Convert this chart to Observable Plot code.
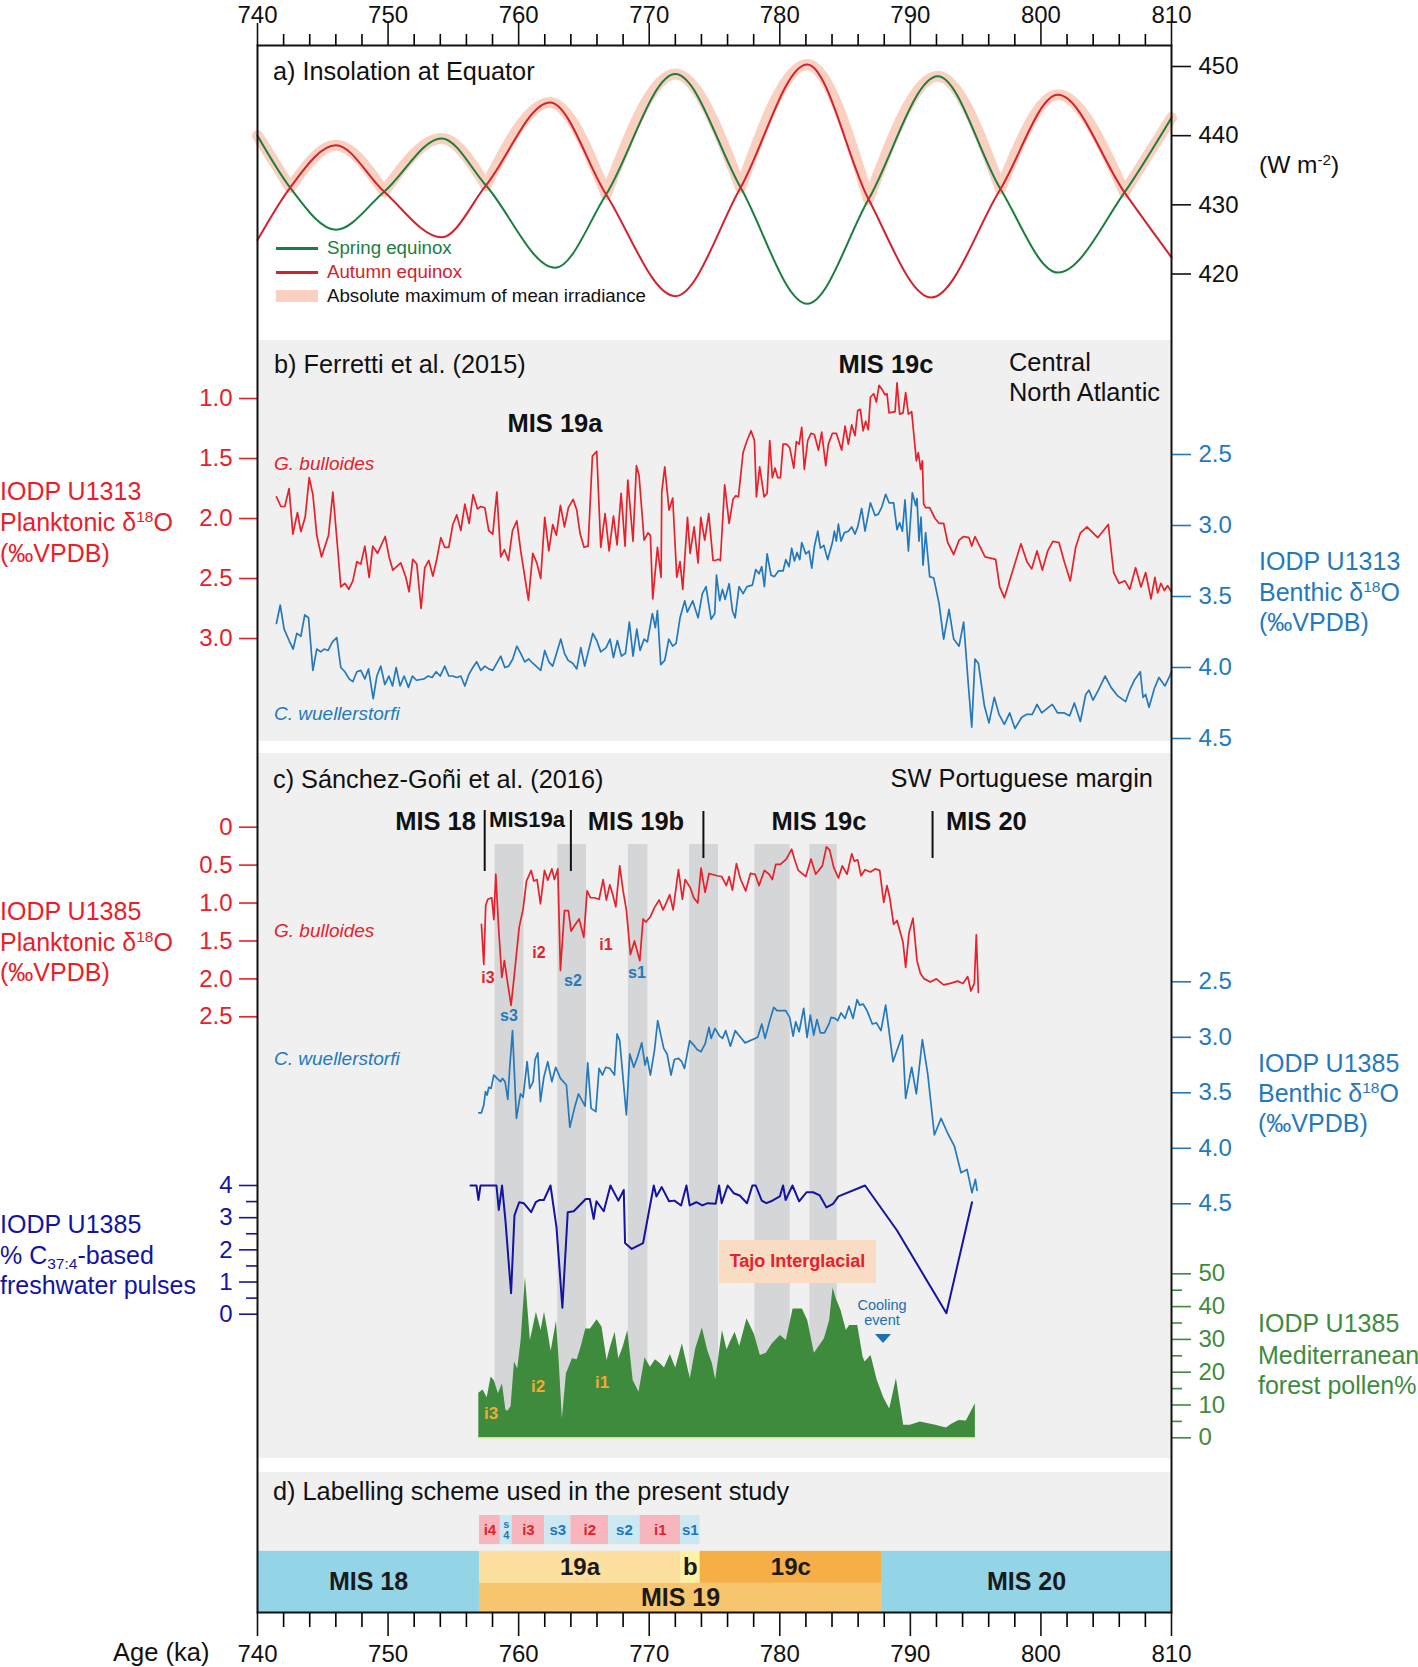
<!DOCTYPE html>
<html><head><meta charset="utf-8">
<script src="https://cdn.jsdelivr.net/npm/d3@7"></script>
<script src="https://cdn.jsdelivr.net/npm/@observablehq/plot@0.6"></script>
<style>
body{margin:0;background:#fff;}
#chart{position:relative;width:1418px;height:1667px;font-family:"Liberation Sans",Arial,Helvetica,sans-serif;overflow:hidden;background:#fff;}
#chart svg{position:absolute;left:0;top:0;}
.t{position:absolute;white-space:nowrap;line-height:1;}
.bg{position:absolute;background:#f0f0f0;}
.sup{font-size:62%;position:relative;top:-0.55em;}
.sub{font-size:62%;position:relative;top:0.3em;}
</style></head>
<body><div id="chart"></div>
<script>
// ---------------- DATA ----------------
const majorAges = [740, 750, 760, 770, 780, 790, 800, 810];
const minorAges = [742,744,746,748,752,754,756,758,762,764,766,768,772,774,776,778,782,784,786,788,792,794,796,798,802,804,806,808];

// a) insolation at Equator (W m-2): extremes and crossings
const springEquinox = [[740,440.0],[742.5,432.5],[746.0,426.4],[749.7,431.9],[754.1,439.6],[757.5,432.8],[762.8,420.9],[766.7,431.5],[772.0,448.9],[777.0,432.5],[782.1,415.7],[786.8,430.8],[792.1,448.6],[796.9,432.3],[801.3,420.2],[806.4,431.8],[810,442.6]];
const autumnEquinox = [[740,424.9],[742.5,432.5],[746.0,438.6],[749.7,431.9],[754.1,425.3],[757.5,432.8],[762.4,444.8],[766.7,431.5],[772.0,416.8],[777.0,432.5],[782.1,450.3],[786.8,430.8],[791.6,416.6],[796.9,432.3],[801.3,445.9],[806.4,431.8],[810,422.4]];
const equinoxCrossings = [742.5, 749.7, 757.5, 766.7, 777.0, 786.8, 796.9, 806.4];
const insolTicks = [420, 430, 440, 450];

// b) Ferretti et al. (2015), U1313
const bPlanktonic = [[741.45,1.82],[741.79,1.90],[742.09,1.90],[742.42,1.75],[742.71,2.13],[743.06,1.95],[743.32,2.11],[743.65,1.99],[743.96,1.66],[744.24,1.80],[744.54,2.14],[744.90,2.32],[745.44,2.14],[745.77,1.78],[746.07,2.16],[746.38,2.57],[746.69,2.54],[746.99,2.59],[747.30,2.52],[747.61,2.36],[747.91,2.38],[748.22,2.23],[748.55,2.49],[748.83,2.23],[749.19,2.29],[749.78,2.15],[750.08,2.32],[750.36,2.43],[750.97,2.37],[751.36,2.49],[751.61,2.61],[751.89,2.34],[752.20,2.38],[752.53,2.75],[752.81,2.41],[753.12,2.35],[753.43,2.48],[753.73,2.34],[754.04,2.16],[754.34,2.24],[754.65,2.24],[754.96,2.05],[755.26,1.97],[755.57,2.10],[755.88,1.88],[756.21,2.04],[756.51,1.80],[756.85,1.92],[757.10,1.90],[757.41,1.91],[757.71,2.10],[758.02,2.13],[758.33,1.78],[758.63,2.32],[758.91,2.26],[759.22,2.35],[759.53,2.10],[759.86,2.02],[760.16,2.27],[760.75,2.68],[761.08,2.29],[761.39,2.37],[761.69,2.50],[762.00,1.99],[762.31,2.27],[762.61,2.05],[762.89,2.14],[763.20,1.89],[763.51,2.07],[763.81,1.91],[764.17,1.84],[764.45,1.93],[764.71,2.13],[765.01,2.24],[765.32,2.23],[765.65,1.48],[765.98,1.44],[766.29,2.24],[766.62,1.96],[766.93,2.27],[767.26,1.98],[767.54,2.22],[767.85,1.79],[768.15,2.23],[768.36,1.68],[768.76,2.19],[769.02,1.56],[769.22,1.64],[769.61,2.18],[769.91,2.12],[770.09,2.14],[770.27,2.67],[770.63,2.24],[770.91,2.49],[770.96,1.78],[771.19,1.57],[771.52,1.93],[771.80,1.83],[772.11,2.49],[772.36,2.36],[772.57,2.59],[772.93,1.99],[773.13,2.29],[773.44,2.07],[773.74,2.37],[773.95,1.99],[774.25,2.18],[774.56,1.96],[774.89,2.35],[775.04,2.35],[775.30,2.34],[775.45,2.35],[775.78,1.72],[776.12,2.04],[776.42,1.84],[776.63,1.81],[776.83,1.82],[777.19,1.45],[777.49,1.35],[777.80,1.27],[778.06,1.35],[778.21,1.82],[778.46,1.57],[778.80,1.82],[779.03,1.79],[779.23,1.35],[779.43,1.66],[779.64,1.58],[779.84,1.66],[780.05,1.66],[780.25,1.38],[780.51,1.38],[780.76,1.41],[781.07,1.58],[781.27,1.36],[781.48,1.38],[781.68,1.24],[781.88,1.59],[782.14,1.35],[782.39,1.29],[782.65,1.30],[782.96,1.43],[783.21,1.28],[783.52,1.56],[783.72,1.38],[784.03,1.29],[784.33,1.29],[784.74,1.43],[785.00,1.23],[785.25,1.38],[785.51,1.22],[785.76,1.31],[785.97,1.10],[786.17,1.09],[786.38,1.27],[786.58,1.19],[786.78,1.26],[786.94,0.99],[787.19,0.96],[787.40,1.03],[787.60,0.89],[787.81,0.92],[788.06,0.97],[788.21,0.96],[788.37,1.12],[788.83,1.11],[788.98,0.87],[789.18,1.13],[789.44,1.12],[789.64,0.95],[789.85,1.13],[790.10,1.11],[790.31,1.35],[790.46,1.52],[790.61,1.45],[790.79,1.59],[790.92,1.52],[791.02,1.88],[791.17,1.91],[791.48,1.91],[791.89,2.00],[792.20,2.04],[792.55,2.04],[792.86,2.20],[793.32,2.30],[793.73,2.18],[794.08,2.15],[794.49,2.16],[794.70,2.23],[794.95,2.15],[795.31,2.23],[795.72,2.32],[796.13,2.33],[796.53,2.34],[796.84,2.57],[797.20,2.66],[798.47,2.21],[798.93,2.36],[799.29,2.42],[799.70,2.27],[800.11,2.43],[800.52,2.27],[800.92,2.19],[801.38,2.20],[801.79,2.36],[802.25,2.52],[802.66,2.24],[803.02,2.12],[803.53,2.07],[804.35,2.16],[805.16,2.05],[805.57,2.45],[805.98,2.54],[806.44,2.52],[806.80,2.59],[807.25,2.41],[807.66,2.57],[808.02,2.45],[808.43,2.67],[808.73,2.49],[808.94,2.62],[809.19,2.54],[809.45,2.60],[809.70,2.56],[810.00,2.61]];
const bBenthic = [[741.45,3.69],[741.74,3.56],[742.04,3.73],[742.42,3.81],[742.73,3.87],[743.01,3.76],[743.32,3.78],[743.62,3.63],[743.91,3.65],[744.24,4.02],[744.54,3.87],[744.85,3.89],[745.10,3.87],[745.41,3.88],[745.74,3.82],[746.07,3.79],[746.38,4.00],[746.69,4.03],[747.02,4.08],[747.30,4.10],[747.61,4.03],[747.91,4.02],[748.22,4.08],[748.50,4.01],[748.86,4.22],[749.14,4.06],[749.44,3.99],[749.75,4.12],[750.06,4.06],[750.34,4.13],[750.62,4.00],[750.92,4.13],[751.23,4.06],[751.56,4.14],[751.87,4.06],[752.17,4.09],[752.76,4.08],[753.07,4.06],[753.37,4.07],[753.68,4.03],[753.99,4.06],[754.34,3.99],[754.65,4.06],[754.96,4.06],[755.26,4.07],[755.57,4.06],[755.88,4.13],[756.18,4.05],[756.49,4.00],[756.79,3.96],[757.10,4.02],[757.41,3.99],[757.71,4.01],[758.02,4.02],[758.63,3.92],[758.94,4.00],[759.24,3.99],[759.55,3.94],[759.86,3.85],[760.16,3.90],[760.47,3.96],[760.78,3.94],[761.08,3.97],[761.69,4.02],[762.00,3.88],[762.31,3.96],[762.61,3.99],[763.23,3.80],[763.51,3.90],[763.79,3.95],[764.14,3.97],[764.45,4.01],[764.76,3.86],[765.06,3.99],[765.68,3.76],[765.98,3.81],[766.29,3.89],[766.70,3.86],[767.00,3.80],[767.26,3.93],[767.56,3.81],[767.87,3.92],[768.18,3.90],[768.48,3.68],[768.76,3.92],[769.05,3.73],[769.30,3.88],[769.61,3.80],[769.86,3.82],[770.24,3.62],[770.47,3.72],[770.63,3.60],[770.88,3.98],[771.19,3.95],[771.50,3.80],[771.80,3.85],[772.06,3.83],[772.36,3.65],[772.72,3.53],[772.92,3.61],[773.33,3.53],[773.74,3.65],[774.07,3.48],[774.35,3.43],[774.74,3.66],[775.02,3.62],[775.15,3.35],[775.40,3.53],[775.61,3.45],[775.81,3.52],[776.12,3.41],[776.37,3.60],[776.58,3.65],[776.88,3.43],[777.19,3.48],[777.49,3.43],[777.90,3.42],[778.16,3.31],[778.41,3.34],[778.62,3.29],[778.82,3.43],[779.03,3.20],[779.33,3.35],[779.59,3.36],[779.89,3.32],[780.25,3.32],[780.46,3.24],[780.71,3.29],[780.91,3.16],[781.12,3.25],[781.32,3.19],[781.53,3.24],[781.68,3.12],[781.99,3.20],[782.24,3.18],[782.45,3.30],[782.65,3.15],[782.91,3.04],[783.11,3.16],[783.37,3.14],[783.67,3.24],[784.03,3.12],[784.18,3.04],[784.33,3.11],[784.49,2.99],[784.69,3.11],[784.95,3.05],[785.25,3.04],[785.51,3.01],[785.76,3.06],[785.97,3.01],[786.27,2.88],[786.53,3.04],[786.94,2.84],[787.30,2.93],[787.55,2.92],[787.81,2.87],[788.11,2.78],[788.37,2.84],[788.72,2.84],[788.98,3.03],[789.18,2.98],[789.39,3.04],[789.59,2.82],[789.85,3.18],[790.15,2.77],[790.41,2.86],[790.51,2.81],[790.66,3.11],[790.82,2.94],[790.97,3.28],[791.17,3.05],[791.48,3.36],[791.79,3.37],[792.20,3.55],[792.55,3.80],[792.96,3.59],[793.32,3.80],[793.73,3.85],[794.08,3.68],[794.44,4.12],[794.70,4.42],[794.95,3.94],[795.21,3.97],[795.67,4.27],[796.02,4.39],[796.43,4.21],[796.79,4.33],[797.20,4.40],[797.61,4.32],[798.01,4.43],[798.53,4.35],[798.93,4.33],[799.34,4.33],[799.70,4.26],[800.06,4.32],[800.46,4.29],[800.87,4.26],[801.28,4.32],[801.79,4.32],[802.20,4.34],[802.56,4.25],[803.02,4.38],[803.43,4.19],[803.68,4.16],[803.99,4.23],[804.40,4.16],[804.91,4.06],[805.37,4.14],[805.88,4.20],[806.49,4.24],[806.80,4.16],[807.15,4.09],[807.61,4.03],[807.82,4.21],[808.02,4.19],[808.28,4.28],[808.68,4.15],[809.04,4.07],[809.50,4.13],[809.86,4.06],[810.00,4.03]];
const bPlankTicks = [1.0, 1.5, 2.0, 2.5, 3.0];
const bBenthTicks = [2.5, 3.0, 3.5, 4.0, 4.5];

// c) Sanchez-Goni et al. (2016), U1385
const cPlanktonic = [[757.15,1.28],[757.33,1.81],[757.48,1.03],[757.64,0.95],[757.94,0.93],[758.10,1.22],[758.25,0.62],[758.45,1.28],[758.71,1.98],[758.91,1.76],[759.17,2.07],[759.42,2.35],[759.68,1.93],[760.04,1.32],[760.34,1.08],[760.60,0.71],[760.96,0.57],[761.16,0.71],[761.41,0.69],[761.67,1.01],[761.98,0.57],[762.23,0.70],[762.54,0.55],[762.74,0.69],[763.00,0.55],[763.20,1.89],[763.51,1.10],[763.81,1.10],[764.02,1.37],[764.27,1.30],[764.63,1.21],[764.99,1.45],[765.24,0.84],[765.50,0.93],[765.80,0.93],[766.16,0.95],[766.47,0.69],[766.72,0.96],[766.98,0.76],[767.18,0.87],[767.44,1.05],[767.74,0.51],[768.00,0.84],[768.25,1.09],[768.56,1.68],[768.87,1.50],[769.28,1.76],[769.53,1.21],[769.74,1.25],[770.09,1.18],[770.40,1.06],[770.76,0.96],[771.06,1.09],[771.27,1.01],[771.57,0.89],[771.83,1.09],[772.24,0.56],[772.54,0.95],[772.75,0.69],[773.15,0.80],[773.41,0.93],[773.72,1.00],[773.97,0.54],[774.28,0.86],[774.58,0.61],[775.20,0.64],[775.55,0.65],[775.91,0.77],[776.12,0.65],[776.37,0.83],[776.68,0.48],[776.98,0.68],[777.39,0.84],[777.75,0.61],[778.11,0.62],[778.41,0.77],[778.82,0.57],[779.18,0.62],[779.43,0.69],[779.69,0.49],[780.05,0.49],[780.50,0.42],[780.91,0.29],[781.12,0.42],[781.42,0.57],[781.99,0.65],[782.39,0.42],[782.75,0.62],[783.26,0.51],[783.57,0.26],[783.82,0.30],[784.13,0.53],[784.49,0.67],[784.79,0.51],[785.15,0.62],[785.51,0.35],[785.71,0.45],[785.97,0.43],[786.22,0.64],[786.53,0.56],[786.94,0.59],[787.30,0.55],[787.65,0.57],[787.96,0.99],[788.21,0.77],[788.42,0.93],[788.72,1.28],[788.98,1.23],[789.44,1.52],[789.64,1.85],[789.90,1.39],[790.20,1.20],[790.51,1.76],[790.77,1.93],[791.07,2.00],[791.53,2.04],[791.99,2.00],[792.55,2.08],[793.06,2.06],[793.62,2.03],[794.03,2.06],[794.39,1.97],[794.64,2.16],[794.90,2.06],[795.05,1.42],[795.21,2.18]];
const cBenthic = [[756.95,3.68],[757.15,3.68],[757.33,3.61],[757.46,3.49],[757.59,3.52],[757.71,3.45],[757.89,3.46],[758.10,3.34],[758.35,3.37],[758.61,3.40],[758.76,3.37],[758.96,3.40],[759.17,3.56],[759.32,3.27],[759.53,2.94],[759.83,3.73],[760.14,3.51],[760.34,3.54],[760.65,3.22],[760.85,3.46],[761.11,3.40],[761.26,3.20],[761.47,3.14],[761.67,3.58],[761.93,3.36],[762.23,3.22],[762.54,3.40],[762.84,3.27],[763.20,3.37],[763.66,3.43],[763.92,3.81],[764.27,3.64],[764.58,3.51],[765.09,3.62],[765.29,3.23],[765.55,3.64],[765.91,3.67],[766.16,3.28],[766.42,3.34],[766.67,3.27],[766.98,3.28],[767.34,3.34],[767.54,2.97],[767.74,3.03],[768.25,3.70],[768.51,3.15],[768.82,3.27],[769.07,3.19],[769.43,3.05],[769.68,3.25],[769.84,3.18],[770.09,3.34],[770.40,3.12],[770.65,2.85],[771.11,3.10],[771.37,3.15],[771.67,3.34],[771.93,3.20],[772.24,3.19],[772.49,3.22],[772.70,3.28],[773.10,3.03],[773.41,3.07],[773.67,3.11],[773.97,3.13],[774.28,3.06],[774.58,2.91],[774.74,3.01],[775.04,2.92],[775.40,2.99],[775.61,3.01],[775.86,2.94],[776.22,3.08],[776.58,2.94],[776.93,2.99],[777.34,3.05],[778.31,3.00],[778.62,2.88],[778.87,3.01],[779.23,2.85],[779.54,2.73],[779.79,2.76],[780.45,2.76],[780.76,2.82],[781.02,2.99],[781.22,2.86],[781.48,2.95],[781.83,2.74],[782.09,3.00],[782.34,2.80],[782.60,2.98],[782.85,2.84],[783.11,2.96],[783.42,2.96],[783.77,2.88],[783.93,2.82],[784.23,2.83],[784.44,2.85],[784.69,2.78],[785.00,2.83],[785.30,2.72],[785.61,2.83],[785.92,2.66],[786.12,2.71],[786.38,2.70],[786.68,2.76],[787.09,2.88],[787.40,2.87],[787.75,2.94],[788.11,2.71],[788.67,3.22],[789.39,2.98],[789.64,3.55],[790.10,3.27],[790.46,3.51],[790.92,3.02],[791.33,3.33],[791.84,3.88],[792.35,3.73],[792.84,3.86],[793.37,3.98],[793.88,4.22],[794.34,4.19],[794.72,4.40],[794.98,4.28],[795.11,4.38]];
const cFreshwater = [[756.31,4.00],[756.77,4.00],[756.92,3.55],[757.08,4.00],[758.30,4.00],[758.48,3.24],[758.73,4.00],[758.99,2.91],[759.42,0.65],[759.68,3.07],[760.04,3.48],[760.39,3.45],[760.96,3.17],[761.31,3.48],[761.62,3.55],[761.93,3.55],[762.44,4.00],[762.90,2.70],[763.35,0.20],[763.76,3.17],[764.22,3.20],[764.73,3.41],[765.14,3.58],[765.45,3.58],[765.75,2.96],[765.96,3.51],[766.52,3.20],[767.03,4.00],[767.64,3.53],[768.05,3.86],[768.15,2.21],[768.66,2.03],[769.53,2.21],[769.84,2.89],[770.35,4.00],[770.55,3.66],[770.96,3.95],[771.52,3.51],[771.93,3.53],[772.44,3.38],[772.85,4.00],[773.10,3.38],[773.61,3.48],[774.07,3.38],[774.48,3.45],[775.09,3.43],[775.35,4.00],[775.55,3.45],[776.01,4.00],[776.47,3.76],[776.93,3.69],[777.49,3.45],[777.90,4.00],[778.16,4.00],[778.62,3.53],[778.97,3.45],[779.33,3.51],[780.00,3.66],[780.25,4.00],[780.45,3.55],[780.97,4.00],[781.48,3.51],[782.04,3.79],[782.55,3.79],[783.06,3.69],[783.57,3.32],[784.08,3.43],[784.49,3.66],[786.53,4.00],[788.98,2.60],[792.76,0.03],[794.72,3.48]];
const cPollen = [[756.95,13.6],[757.28,14.6],[757.59,12.2],[757.89,18.5],[758.15,17.3],[758.45,13.4],[758.76,16.5],[759.02,8.5],[759.17,8.1],[759.42,9.5],[759.68,23.1],[759.93,21.0],[760.19,29.7],[760.52,49.0],[760.90,29.7],[761.36,38.3],[761.72,32.7],[761.98,38.3],[762.23,32.7],[762.49,26.4],[762.90,35.6],[763.10,23.6],[763.35,5.8],[763.66,19.5],[764.12,24.1],[764.48,23.8],[764.78,27.6],[765.14,33.2],[765.50,33.2],[766.01,36.0],[766.39,33.7],[766.77,23.6],[767.03,27.6],[767.39,32.2],[767.67,24.1],[768.00,27.6],[768.36,32.7],[768.77,17.5],[769.22,13.9],[769.68,24.4],[770.09,21.5],[770.48,23.8],[770.86,22.6],[771.17,21.3],[771.62,25.4],[772.03,21.3],[772.54,28.7],[773.15,18.0],[773.56,27.1],[774.07,33.5],[774.48,26.6],[774.84,22.6],[775.09,17.7],[775.61,32.7],[775.96,26.8],[776.22,29.2],[776.58,32.2],[776.93,27.8],[777.49,36.3],[778.06,31.5],[778.51,25.1],[778.97,25.8],[779.43,28.7],[780.05,31.2],[780.50,29.7],[781.02,39.3],[781.73,39.3],[782.14,35.8],[782.65,25.8],[783.16,28.7],[783.42,30.2],[783.82,35.8],[784.08,45.7],[784.33,42.3],[784.69,38.8],[785.10,32.7],[785.35,34.2],[785.97,34.2],[786.38,24.6],[786.53,23.1],[786.99,25.1],[787.45,17.7],[787.96,12.2],[788.42,8.8],[788.93,18.0],[789.49,3.8],[790.00,3.8],[790.77,4.8],[791.94,3.8],[792.76,3.0],[793.17,4.1],[793.73,5.3],[794.29,5.1],[794.98,10.4]];
const cPlankTicks = [0, 0.5, 1.0, 1.5, 2.0, 2.5];
const cBenthTicks = [2.5, 3.0, 3.5, 4.0, 4.5];
const freshTicks = [0, 1, 2, 3, 4];
const freshMinorTicks = [0.5, 1.5, 2.5, 3.5];
const pollenTicks = [0, 10, 20, 30, 40, 50];
const pollenMinorTicks = [5, 15, 25, 35, 45];
const coldBands = [[758.2,760.4],[763.0,765.2],[768.4,769.9],[773.1,775.3],[778.1,780.8],[782.3,784.4]];
const misBoundsLong = [757.4, 764.0];
const misBoundsShort = [774.15, 791.7];

// d) labelling scheme
const misStages = [{s:740, e:757.0, label:"MIS 18"}, {s:787.8, e:810, label:"MIS 20"}];
const mis19Substages = [{s:757.0, e:772.4, label:"19a", c:"#fddf9f"}, {s:772.4, e:773.9, label:"b", c:"#fff1a6"}, {s:773.9, e:787.8, label:"19c", c:"#f6ae47"}];
const mis19 = [{s:757.0, e:787.8, label:"MIS 19"}];
const eventBoxes = [{s:757.0,e:758.6,label:"i4",k:"i"},{s:758.6,e:759.5,label:"s\n4",k:"s"},{s:759.5,e:762.0,label:"i3",k:"i"},{s:762.0,e:764.0,label:"s3",k:"s"},{s:764.0,e:766.9,label:"i2",k:"i"},{s:766.9,e:769.3,label:"s2",k:"s"},{s:769.3,e:772.4,label:"i1",k:"i"},{s:772.4,e:773.9,label:"s1",k:"s"}];

// ---------------- DRAWING ----------------
const FONT = '"Liberation Sans", Arial, Helvetica, sans-serif';
const W = 1418, H = 1667;
const RED = "#e8202a", BLUE = "#2479bd", NAVY = "#1414a2", GREEN = "#3e8b3e";
const chart = document.getElementById("chart");

function bg(top, height) {
  const d = document.createElement("div");
  d.className = "bg";
  Object.assign(d.style, {left: "258px", top: top + "px", width: "913px", height: height + "px"});
  chart.appendChild(d);
}
bg(340, 401); bg(753, 705); bg(1472, 140);

function layer({mt = 0, mb = 0, x = {domain: [740, 810], axis: null}, y, marks}) {
  const svg = Plot.plot({
    width: W, height: H,
    marginLeft: 257, marginRight: 247, marginTop: mt, marginBottom: mb,
    x, y,
    style: {background: "none", overflow: "visible", fontFamily: FONT},
    marks
  });
  chart.appendChild(svg);
  return svg;
}
const P = d => d[0], V = d => d[1];

function axisL(ticks, color, fmt, extra = {}) {
  return Plot.axisY(ticks, {anchor: "left", tickSize: 18, tickPadding: 7, fontSize: 24, color, strokeWidth: 1.6, tickFormat: fmt, label: null, ...extra});
}
function axisR(ticks, color, fmt, extra = {}) {
  return Plot.axisY(ticks, {anchor: "right", tickSize: 19, tickPadding: 8, fontSize: 24, color, strokeWidth: 1.6, tickFormat: fmt, label: null, ...extra});
}
const f1 = d => d.toFixed(1);
const f0 = d => d3.format("d")(d);
const fc = d => d === 0 ? "0" : d.toFixed(1);
const blank = () => "";

// c) cold bands (behind data)
layer({mt: 844, mb: H - 1437, marks: [
  Plot.rect(coldBands, {x1: P, x2: V, fill: "#d5d6d8"})
]});

// d) MIS bars
layer({y: {domain: [0, 4], range: [1612, 1515], axis: null}, marks: [
  Plot.rect(misStages, {x1: "s", x2: "e", y1: 0, y2: 2.52, fill: "#93d4e7"}),
  Plot.rect(mis19Substages, {x1: "s", x2: "e", y1: 1.2, y2: 2.52, fill: "c"}),
  Plot.rect(mis19, {x1: "s", x2: "e", y1: 0, y2: 1.2, fill: "#f6c56d"}),
  Plot.rect(eventBoxes, {x1: "s", x2: "e", y1: 2.8, y2: 4, fill: d => d.k === "i" ? "#f7b6be" : "#cce8f3"}),
  Plot.text(misStages, {x: d => (d.s + d.e) / 2, y: 1.26, text: "label", fontSize: 25, fontWeight: "bold", fill: "#1a1a1a"}),
  Plot.text(mis19Substages, {x: d => (d.s + d.e) / 2, y: 1.86, text: "label", fontSize: 24, fontWeight: "bold", fill: "#1a1a1a"}),
  Plot.text(mis19, {x: d => (d.s + d.e) / 2, y: 0.6, text: "label", fontSize: 25, fontWeight: "bold", fill: "#1a1a1a"}),
  Plot.text(eventBoxes.filter(d => d.label.length === 2), {x: d => (d.s + d.e) / 2, y: 3.4, text: "label", fontSize: 15, fontWeight: "bold", fill: d => d.k === "i" ? "#e5202c" : "#2077bd"}),
  Plot.text(eventBoxes.filter(d => d.label.length > 2), {x: d => (d.s + d.e) / 2, y: 3.4, text: "label", fontSize: 11, lineHeight: 0.95, fontWeight: "bold", fill: "#2077bd"})
]});

// a) insolation
const bounds = [740, ...equinoxCrossings, 810];
function upperSegments(series, parity) {
  const out = [];
  for (let i = 0; i < bounds.length - 1; i++) {
    if (i % 2 !== parity) continue;
    series.filter(d => d[0] >= bounds[i] - 1e-9 && d[0] <= bounds[i + 1] + 1e-9)
      .forEach(d => out.push({x: d[0], y: d[1], seg: i}));
  }
  return out;
}
const envelope = [...upperSegments(springEquinox, 0), ...upperSegments(autumnEquinox, 1)];
layer({y: {domain: [420, 450], range: [273.5, 66]}, marks: [
  Plot.line(envelope, {x: "x", y: "y", z: "seg", curve: "monotone-x", stroke: "#fad0c0", strokeWidth: 11, strokeLinecap: "round"}),
  Plot.line(springEquinox, {x: P, y: V, curve: "monotone-x", stroke: "#1b7d3f", strokeWidth: 2}),
  Plot.line(autumnEquinox, {x: P, y: V, curve: "monotone-x", stroke: "#d2222d", strokeWidth: 2}),
  axisR(insolTicks, "#111", f0)
]});

// b) Ferretti et al.
layer({y: {domain: [1.0, 3.0], range: [398, 638]}, marks: [
  Plot.line(bPlanktonic, {x: P, y: V, stroke: RED, strokeWidth: 1.7}),
  axisL(bPlankTicks, RED, f1)
]});
layer({y: {domain: [2.5, 4.5], range: [454, 738]}, marks: [
  Plot.line(bBenthic, {x: P, y: V, stroke: BLUE, strokeWidth: 1.7}),
  axisR(bBenthTicks, BLUE, f1)
]});

// c) Sanchez-Goni et al.
layer({y: {domain: [0, 50], range: [1437.3, 1273.3]}, marks: [
  Plot.areaY(cPollen, {x: P, y: V, fill: GREEN}),
  Plot.ruleY([0], {x1: 756.95, x2: 794.98, stroke: "#e3df7c", strokeWidth: 1.5}),
  axisR(pollenMinorTicks, GREEN, blank, {tickSize: 10}),
  axisR(pollenTicks, GREEN, f0)
]});
layer({y: {domain: [0, 2.5], range: [826.7, 1016.3]}, marks: [
  Plot.line(cPlanktonic, {x: P, y: V, stroke: RED, strokeWidth: 1.7}),
  axisL(cPlankTicks, RED, fc)
]});
layer({y: {domain: [2.5, 4.5], range: [981.3, 1203.3]}, marks: [
  Plot.line(cBenthic, {x: P, y: V, stroke: BLUE, strokeWidth: 1.7}),
  axisR(cBenthTicks, BLUE, f1)
]});
layer({y: {domain: [0, 4], range: [1313.7, 1185]}, marks: [
  Plot.line(cFreshwater, {x: P, y: V, stroke: NAVY, strokeWidth: 2}),
  axisL(freshMinorTicks, NAVY, blank, {tickSize: 11}),
  axisL(freshTicks, NAVY, f0)
]});
layer({mt: 810, mb: H - 871, marks: [Plot.ruleX(misBoundsLong, {stroke: "#111", strokeWidth: 2})]});
layer({mt: 811, mb: H - 858, marks: [Plot.ruleX(misBoundsShort, {stroke: "#111", strokeWidth: 2})]});

// frame and age axes
layer({mt: 45, mb: H - 1612, x: {domain: [740, 810]}, marks: [
  Plot.axisX(minorAges, {anchor: "top", tickSize: 12, tickFormat: blank, strokeWidth: 1.6, label: null}),
  Plot.axisX(majorAges, {anchor: "top", tickSize: 23, tickPadding: 0, fontSize: 24, strokeWidth: 1.6, label: null, color: "#111"}),
  Plot.axisX(minorAges, {anchor: "bottom", tickSize: 15, tickFormat: blank, strokeWidth: 1.6, label: null}),
  Plot.axisX(majorAges, {anchor: "bottom", tickSize: 24, tickPadding: 8, fontSize: 24, strokeWidth: 1.6, label: null, color: "#111"}),
  Plot.frame({stroke: "#111", strokeWidth: 2})
]});

// ---------------- TEXT ----------------
function txt(x, y, html, st = {}, anchor = "start") {
  const d = document.createElement("div");
  d.className = "t";
  d.innerHTML = html;
  const tx = anchor === "middle" ? "-50%" : anchor === "end" ? "-100%" : "0";
  Object.assign(d.style, {left: x + "px", top: y + "px", transform: `translate(${tx},-50%)`}, st);
  chart.appendChild(d);
  return d;
}
function box(l, t, w, h, c) {
  const d = document.createElement("div");
  Object.assign(d.style, {position: "absolute", left: l + "px", top: t + "px", width: w + "px", height: h + "px", background: c});
  chart.appendChild(d);
  return d;
}
const title = {fontSize: "25.3px", color: "#111"};
const ital = {fontSize: "19px", fontStyle: "italic"};
const bold24 = {fontSize: "25.5px", fontWeight: "bold", color: "#111"};
const side = {fontSize: "25px"};
const plain = {fontSize: "25.4px", color: "#111"};

// a
txt(273, 72, "a) Insolation at Equator", title);
box(276, 247, 42, 2.5, "#1b7d3f");
box(276, 271, 42, 2.5, "#d2222d");
box(276, 290, 42, 12, "#fad0c0");
const leg = {fontSize: "18.7px"};
txt(327, 248, "Spring equinox", {...leg, color: "#1b7d3f"});
txt(327, 272, "Autumn equinox", {...leg, color: "#d2222d"});
txt(327, 296, "Absolute maximum of mean irradiance", {...leg, color: "#111"});
txt(1259, 165, '(W m<span class="sup">-2</span>)', {fontSize: "24.5px", color: "#111"});

// b
txt(274, 365, "b) Ferretti et al. (2015)", title);
txt(555, 424, "MIS 19a", bold24, "middle");
txt(886, 365, "MIS 19c", bold24, "middle");
txt(1009, 363, "Central", plain);
txt(1009, 393, "North Atlantic", plain);
txt(274, 463, "G. bulloides", {...ital, color: RED});
txt(274, 713, "C. wuellerstorfi", {...ital, color: BLUE});
txt(0, 491, "IODP U1313", {...side, color: RED});
txt(0, 522, 'Planktonic δ<span class="sup">18</span>O', {...side, color: RED});
txt(0, 553, "(‰VPDB)", {...side, color: RED});
txt(1259, 561, "IODP U1313", {...side, color: BLUE});
txt(1259, 592, 'Benthic δ<span class="sup">18</span>O', {...side, color: BLUE});
txt(1259, 622, "(‰VPDB)", {...side, color: BLUE});

// c
txt(273, 780, "c) Sánchez-Goñi et al. (2016)", title);
txt(1153, 779, "SW Portuguese margin", plain, "end");
txt(476, 822, "MIS 18", bold24, "end");
txt(527, 820, "MIS19a", {...bold24, fontSize: "22px"}, "middle");
txt(636, 822, "MIS 19b", bold24, "middle");
txt(819, 822, "MIS 19c", bold24, "middle");
txt(946, 822, "MIS 20", bold24, "start");
txt(274, 930, "G. bulloides", {...ital, color: RED});
txt(274, 1058, "C. wuellerstorfi", {...ital, color: BLUE});
const evRed = {fontSize: "16px", fontWeight: "bold", color: RED};
const evBlue = {fontSize: "16px", fontWeight: "bold", color: BLUE};
txt(488, 978, "i3", evRed, "middle");
txt(539, 953, "i2", evRed, "middle");
txt(606, 945, "i1", evRed, "middle");
txt(509, 1016, "s3", evBlue, "middle");
txt(573, 981, "s2", evBlue, "middle");
txt(637, 973, "s1", evBlue, "middle");
const evOr = {fontSize: "17px", fontWeight: "bold", color: "#f4a934"};
txt(491, 1413, "i3", evOr, "middle");
txt(538, 1386, "i2", evOr, "middle");
txt(602, 1382, "i1", evOr, "middle");
box(719, 1240, 157, 43, "#f8dcc4");
txt(797.5, 1261, "Tajo Interglacial", {fontSize: "18px", fontWeight: "bold", color: RED}, "middle");
txt(882, 1305, "Cooling", {fontSize: "14.5px", color: "#1f6db3"}, "middle");
txt(882, 1320, "event", {fontSize: "14.5px", color: "#1f6db3"}, "middle");
const tri = document.createElement("div");
Object.assign(tri.style, {position: "absolute", left: "875px", top: "1334px", width: 0, height: 0, borderLeft: "8px solid transparent", borderRight: "8px solid transparent", borderTop: "9px solid #1f6db3"});
chart.appendChild(tri);
txt(0, 911, "IODP U1385", {...side, color: RED});
txt(0, 942, 'Planktonic δ<span class="sup">18</span>O', {...side, color: RED});
txt(0, 972, "(‰VPDB)", {...side, color: RED});
txt(1258, 1063, "IODP U1385", {...side, color: BLUE});
txt(1258, 1093, 'Benthic δ<span class="sup">18</span>O', {...side, color: BLUE});
txt(1258, 1123, "(‰VPDB)", {...side, color: BLUE});
txt(0, 1224, "IODP U1385", {...side, color: NAVY});
txt(0, 1255, '% C<span class="sub">37:4</span>-based', {...side, color: NAVY});
txt(0, 1285, "freshwater pulses", {...side, color: NAVY});
txt(1258, 1323, "IODP U1385", {...side, color: GREEN});
txt(1258, 1355, "Mediterranean", {...side, color: GREEN});
txt(1258, 1385, "forest pollen%", {...side, color: GREEN});

// d
txt(273, 1492, "d) Labelling scheme used in the present study", title);
txt(113, 1653, "Age (ka)", {fontSize: "25.5px", color: "#111"});
</script></body></html>
